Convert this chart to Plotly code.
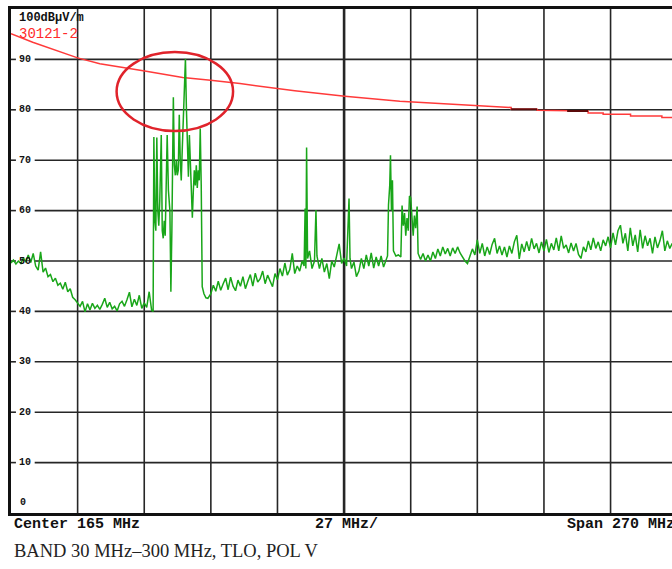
import plotly.graph_objects as go

# ---------------- data ----------------
# Analyzer sweep: 30 MHz .. 300 MHz (Center 165 MHz, Span 270 MHz, 27 MHz/div)
freq_start_mhz = 30
freq_stop_mhz = 300
freq_visible_stop_mhz = 297.9          # the picture is cut at the right
level_min_db = 0
level_max_db = 100

# measured trace (dBuV/m) - low band part, 1 MHz bins
seg1_freq_mhz = list(range(30, 88))
seg1_level_db = [49.6, 50.2, 49.4, 50.0, 49.5, 50.6, 49.8, 51.2, 49.7, 51.5,
                 49.0, 48.2, 51.8, 47.8, 48.6, 46.9, 47.3, 45.9, 46.6, 45.2,
                 45.6, 44.4, 45.8, 43.9, 44.5, 42.8, 42.3, 41.6, 41.0, 42.0,
                 39.9, 41.5, 40.3, 41.6, 40.6, 41.2, 40.4, 41.4, 42.6, 40.8,
                 41.8, 40.5, 41.0, 40.1, 41.5, 42.0, 41.0, 42.3, 43.8, 40.9,
                 42.4, 41.2, 43.2, 40.6, 41.7, 40.8, 43.9, 40.2]

# FM broadcast cluster (fine resolution)
seg2_freq_mhz = [87.6, 87.9, 88.3, 88.7, 89.1, 89.5, 89.9, 90.3, 90.9, 91.3,
                 91.7, 92.1, 92.5, 93.3, 93.8, 94.4, 94.8, 95.2, 95.8, 96.2,
                 96.6, 97.0, 97.4, 97.8, 98.2, 98.6, 99.0, 99.4, 99.8, 100.3,
                 100.7, 101.1, 101.5, 101.9, 102.3, 102.7, 103.1, 103.5, 103.9, 104.3,
                 104.7, 105.1, 105.5, 105.9, 106.3, 106.7, 107.1, 107.5, 108.2, 109.0,
                 109.8]
seg2_level_db = [40.0, 74.6, 58.0, 56.0, 74.5, 60.0, 57.0, 62.0, 75.0, 56.0,
                 54.5, 58.0, 55.0, 75.0, 64.0, 60.0, 43.9, 56.0, 82.5, 69.0,
                 67.0, 70.0, 67.0, 68.0, 79.0, 70.0, 66.0, 72.0, 78.0, 84.9,
                 90.1, 80.0, 72.0, 66.7, 75.0, 70.0, 62.0, 58.6, 64.0, 68.0,
                 65.0, 69.0, 64.5, 68.0, 66.0, 76.3, 65.0, 44.9, 43.5, 42.7,
                 42.6]

# mid band with narrow emissions
seg3_freq_mhz = [111, 112, 113, 114, 115, 116, 117, 118, 119, 120,
                 121, 122, 123, 124, 125, 126, 127, 128, 129, 130,
                 131, 132, 133, 134, 135, 136, 137, 138, 139, 140,
                 141, 142, 143, 144, 145, 146, 147, 148, 148.8, 149.2,
                 149.5, 149.8, 150.2, 151, 152, 153, 153.6, 154, 155, 156,
                 157, 158, 159, 160, 161, 162, 163, 164, 165, 166,
                 167, 167.4, 168, 169, 170, 171, 172, 173, 174, 175,
                 176, 177, 178, 179, 180, 181, 182, 182.6, 183, 183.5,
                 183.8, 184.2, 184.6, 185, 186, 187, 188, 188.5, 189, 189.5,
                 190, 190.5, 191, 191.5, 192, 192.5, 193, 193.5, 194, 194.6,
                 195]
seg3_level_db = [43.5, 45.2, 44.0, 46.0, 44.2, 45.5, 46.6, 44.3, 46.8, 45.0,
                 44.1, 46.2, 45.0, 46.9, 44.5, 46.0, 47.3, 45.0, 47.6, 45.8,
                 46.5, 48.0, 45.5, 47.2, 46.0, 44.9, 47.5, 46.3, 48.5, 47.0,
                 49.6, 47.2, 48.3, 51.5, 47.5, 49.0, 48.0, 50.0, 49.0, 60.4,
                 48.5, 72.5, 50.5, 52.0, 48.5, 50.0, 60.1, 51.0, 48.5, 50.5,
                 47.8, 49.5, 46.5, 50.0, 48.8, 51.0, 53.4, 49.5, 50.6, 49.0,
                 62.4, 50.5, 48.5, 49.8, 46.9, 48.0, 50.5, 48.5, 51.2, 49.0,
                 51.6, 48.6, 50.8, 49.0, 51.0, 48.8, 50.0, 51.0, 61.1, 65.0,
                 71.0, 60.0, 66.0, 52.0, 51.0, 51.2, 50.8, 61.0, 57.0, 59.5,
                 55.0, 58.5, 56.0, 62.9, 62.5, 57.5, 55.0, 59.0, 56.5, 60.8,
                 51.5]

# upper band, 1 MHz bins
seg4_freq_mhz = list(range(196, 299))
seg4_level_db = [50.3, 51.5, 50.0, 51.2, 50.0, 51.8, 50.5, 52.4, 51.0, 52.8,
                 51.4, 52.5, 51.0, 52.6, 51.5, 52.8, 51.6, 50.8, 50.0, 49.5,
                 51.0, 52.4, 51.2, 54.2, 51.5, 53.5, 51.0, 52.8, 51.3, 53.3,
                 54.5, 51.5, 53.0, 51.2, 52.8, 50.8, 53.0, 51.5, 53.8, 55.1,
                 50.4, 53.4, 51.8, 53.9, 52.0, 54.5, 52.4, 53.5, 51.6, 53.8,
                 52.0, 54.3, 51.7, 53.5, 52.2, 54.6, 52.0, 55.0, 52.5, 53.2,
                 51.6, 53.6, 52.0, 53.5, 51.3, 50.5, 52.8, 51.8, 54.0, 52.2,
                 54.6, 52.5, 53.8, 52.0, 54.2, 53.0, 54.8, 52.6, 55.6, 53.2,
                 56.0, 57.1, 53.5, 55.5, 52.0, 56.6, 53.0, 55.2, 51.8, 56.2,
                 52.5, 55.0, 53.0, 54.5, 51.5, 54.8, 52.6, 54.0, 56.0, 52.0,
                 54.0, 52.5, 53.5]

# limit line "30121-2"
limit_freq_mhz = [30, 38.8, 57, 66, 84.2, 99.6, 110.9, 122.8, 145, 165.3,
                  187.6, 207.9, 228.2, 232.7, 232.7, 243.2, 243.2, 255.4, 255.4, 263.9,
                  263.9, 270.0, 270.0, 281.1, 281.1, 293.8, 293.8, 298.0]
limit_level_db = [95.1, 93.4, 90.3, 89.15, 87.7, 86.4, 85.85, 85.2, 83.8, 82.7,
                  81.7, 81.1, 80.45, 80.45, 80.1, 80.1, 79.9, 79.9, 79.76, 79.76,
                  79.37, 79.37, 79.1, 79.1, 78.77, 78.77, 78.46, 78.46]
# darker stretches drawn on the limit line
limit_mark_freq_mhz = [232.7, 243.2, None, 255.4, 263.9]
limit_mark_level_db = [80.1, 80.1, None, 79.76, 79.76]

# graticule
grid_freq_mhz = [57, 84, 111, 138, 165, 192, 219, 246, 273]
center_freq_mhz = 165
grid_level_db = [10, 20, 30, 40, 50, 60, 70, 80, 90]
grid_level_labels = ["10", "20", "30", "40", "50", "60", "70", "80", "90"]

# highlighted region (ellipse)
ellipse_freq_mhz = [72.8, 120.0]
ellipse_level_db = [75.8, 91.45]

unit_label = "100dB\u00b5V/m"
limit_label = "30121-2"
footer_left = "Center 165 MHz"
footer_mid = "27 MHz/"
footer_right = "Span 270 MHz"
caption = "BAND 30 MHz\u2013300 MHz, TLO, POL V"

trace_freq_mhz = seg1_freq_mhz + seg2_freq_mhz + seg3_freq_mhz + seg4_freq_mhz
trace_level_db = seg1_level_db + seg2_level_db + seg3_level_db + seg4_level_db
assert len(trace_freq_mhz) == len(trace_level_db)

# ---------------- figure ----------------
GREEN = "#19a619"
RED = "#ff3a3a"
GRID = "#262626"
MONO = "Liberation Mono, DejaVu Sans Mono, monospace"

fig = go.Figure()
fig.add_trace(go.Scatter(x=limit_freq_mhz, y=limit_level_db, mode="lines",
                         line=dict(color=RED, width=1.5), hoverinfo="skip"))
fig.add_trace(go.Scatter(x=limit_mark_freq_mhz, y=limit_mark_level_db, mode="lines",
                         line=dict(color="#5a0a0a", width=2), connectgaps=False,
                         hoverinfo="skip"))
fig.add_trace(go.Scatter(x=trace_freq_mhz, y=trace_level_db, mode="lines",
                         line=dict(color=GREEN, width=1.5), hoverinfo="skip"))

shapes = []
for f in grid_freq_mhz:
    shapes.append(dict(type="line", xref="x", yref="y", x0=f, x1=f,
                       y0=level_min_db, y1=level_max_db, layer="below",
                       line=dict(color=GRID, width=2.6 if f == center_freq_mhz else 1.6)))
for v in grid_level_db:
    shapes.append(dict(type="line", xref="x", yref="y", x0=39.6, x1=freq_visible_stop_mhz,
                       y0=v, y1=v, layer="below", line=dict(color=GRID, width=1.6)))
    shapes.append(dict(type="line", xref="x", yref="y", x0=freq_start_mhz, x1=32.0,
                       y0=v, y1=v, layer="below", line=dict(color=GRID, width=1.6)))
shapes.append(dict(type="circle", xref="x", yref="y",
                   x0=ellipse_freq_mhz[0], x1=ellipse_freq_mhz[1],
                   y0=ellipse_level_db[0], y1=ellipse_level_db[1],
                   layer="above", line=dict(color="#e0232b", width=2.5)))

annotations = []
for v, t in zip(grid_level_db, grid_level_labels):
    annotations.append(dict(xref="x", yref="y", x=32.3, y=v, text="<b>%s</b>" % t,
                            showarrow=False, xanchor="left", yanchor="middle",
                            font=dict(family=MONO, size=10, color="#111")))
annotations.append(dict(xref="x", yref="y", x=32.9, y=2.1, text="<b>0</b>", showarrow=False,
                        xanchor="left", yanchor="middle",
                        font=dict(family=MONO, size=10, color="#111")))
annotations.append(dict(xref="x", yref="y", x=32.5, y=98.3, text="<b>%s</b>" % unit_label,
                        showarrow=False, xanchor="left", yanchor="middle",
                        font=dict(family=MONO, size=12, color="#111")))
annotations.append(dict(xref="x", yref="y", x=32.5, y=95.0, text=limit_label, showarrow=False,
                        xanchor="left", yanchor="middle",
                        font=dict(family=MONO, size=14, color="#ff2a2a")))
for xp, t in [(0.0015, footer_left), (0.457, footer_mid), (0.838, footer_right)]:
    annotations.append(dict(xref="paper", yref="paper", x=xp, y=-0.0228, text="<b>%s</b>" % t,
                            showarrow=False, xanchor="left", yanchor="middle",
                            font=dict(family=MONO, size=15, color="#111")))
annotations.append(dict(xref="paper", yref="paper", x=0.0015, y=-0.0753, text=caption,
                        showarrow=False, xanchor="left", yanchor="middle",
                        font=dict(family="Liberation Serif, Times New Roman, serif",
                                  size=18.5, color="#222")))

fig.update_layout(
    width=672, height=569,
    margin=dict(l=11, r=0, t=9, b=56),
    paper_bgcolor="white", plot_bgcolor="white",
    showlegend=False,
    shapes=shapes, annotations=annotations,
    xaxis=dict(range=[freq_start_mhz, freq_visible_stop_mhz], showgrid=False, zeroline=False,
               showticklabels=False, ticks="", showline=True, linewidth=3,
               linecolor="#111", mirror=True, fixedrange=True),
    yaxis=dict(range=[level_min_db, level_max_db], showgrid=False, zeroline=False,
               showticklabels=False, ticks="", showline=True, linewidth=3,
               linecolor="#111", fixedrange=True),
)

fig.write_html("out.html", config={"displayModeBar": False},
               post_script="document.body.style.margin='0';document.body.style.overflow='hidden';")
